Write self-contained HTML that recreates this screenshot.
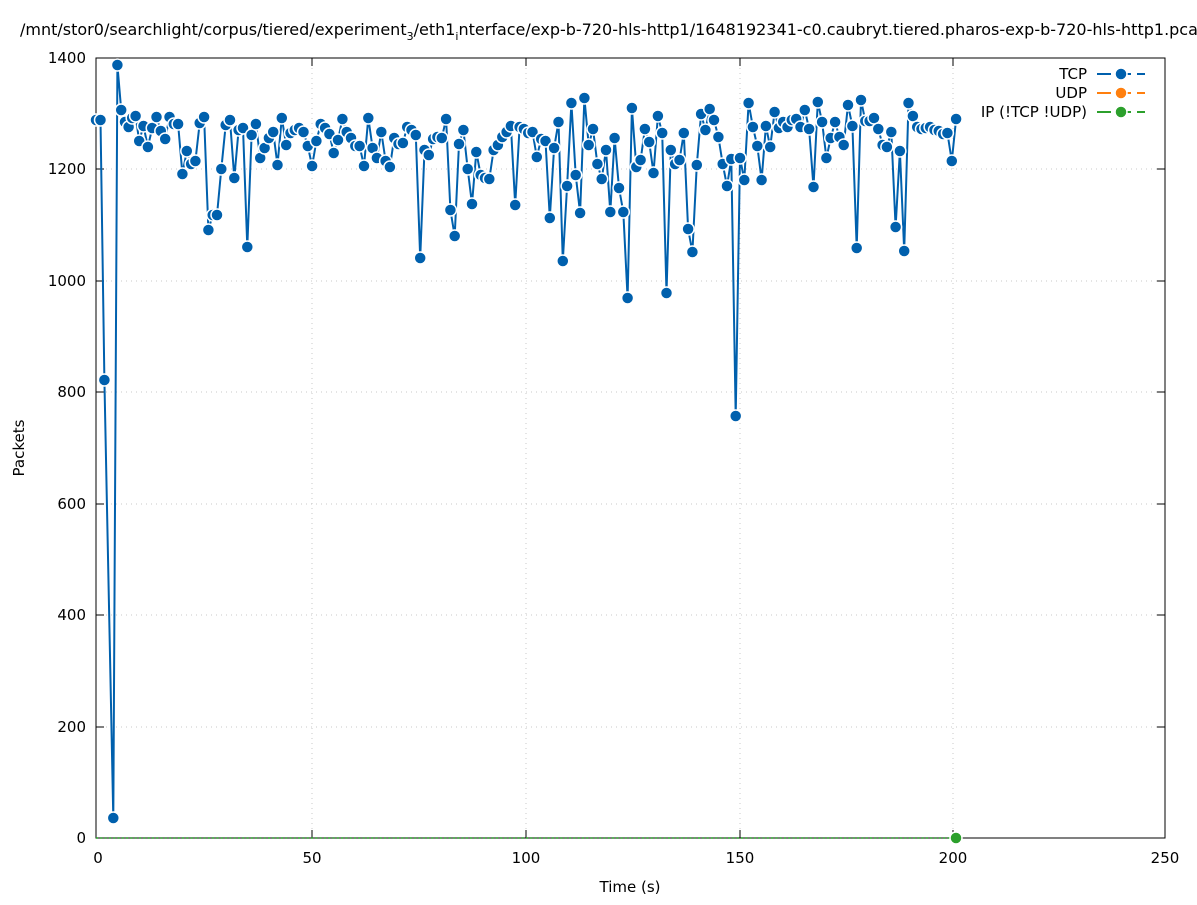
<!DOCTYPE html>
<html><head><meta charset="utf-8"><style>
body{margin:0;background:#fff;}
svg text{font-family:"DejaVu Sans","Liberation Sans",sans-serif;font-size:15px;fill:#000;}
</style></head><body>
<svg width="1197" height="900" xmlns="http://www.w3.org/2000/svg">
<defs>
<marker id="m" markerUnits="userSpaceOnUse" markerWidth="16" markerHeight="16" refX="8" refY="8" overflow="visible">
<circle cx="8" cy="8" r="6" fill="#0060ad" stroke="#fff" stroke-width="1.5"/>
</marker>
</defs>
<rect width="1197" height="900" fill="#fff"/>
<g stroke="#c8c8c8" stroke-width="1" stroke-dasharray="1,4">
<line x1="96" y1="727" x2="1165" y2="727"/><line x1="96" y1="615" x2="1165" y2="615"/>
<line x1="96" y1="504" x2="1165" y2="504"/><line x1="96" y1="392" x2="1165" y2="392"/>
<line x1="96" y1="281" x2="1165" y2="281"/><line x1="96" y1="169" x2="1165" y2="169"/>
<line x1="312" y1="58" x2="312" y2="838"/><line x1="526" y1="58" x2="526" y2="838"/>
<line x1="740" y1="58" x2="740" y2="838"/><line x1="953" y1="58" x2="953" y2="838"/>
</g>
<g stroke="#000" stroke-width="1">
<rect x="96" y="58" width="1069" height="780" fill="none"/>
<path d="M96 838h8M96 727h8M96 615h8M96 504h8M96 392h8M96 281h8M96 169h8M96 58h8M1165 838h-8M1165 727h-8M1165 615h-8M1165 504h-8M1165 392h-8M1165 281h-8M1165 169h-8M1165 58h-8M96 838v-8M312 838v-8M526 838v-8M740 838v-8M953 838v-8M1165 838v-8M96 58v8M312 58v8M526 58v8M740 58v8M953 58v8M1165 58v8"/>
</g>
<g text-anchor="end">
<text x="86" y="843">0</text><text x="86" y="732">200</text><text x="86" y="620">400</text>
<text x="86" y="509">600</text><text x="86" y="397">800</text><text x="86" y="286">1000</text>
<text x="86" y="174">1200</text><text x="86" y="63">1400</text>
</g>
<g text-anchor="middle">
<text x="98" y="863">0</text><text x="312" y="863">50</text><text x="526" y="863">100</text>
<text x="740" y="863">150</text><text x="953" y="863">200</text><text x="1165" y="863">250</text>
<text x="630" y="892">Time (s)</text>
</g>
<text x="24" y="448" transform="rotate(-90 24 448)" text-anchor="middle">Packets</text>
<text x="20" y="35" style="font-size:16px">/mnt/stor0/searchlight/corpus/tiered/experiment<tspan font-size="11" dy="5">3</tspan><tspan dy="-5">/eth1</tspan><tspan font-size="11" dy="5">i</tspan><tspan dy="-5">nterface/exp-b-720-hls-http1/1648192341-c0.caubryt.tiered.pharos-exp-b-720-hls-http1.pcap</tspan></text>
<line x1="96" y1="838" x2="956" y2="838" stroke="#20a020" stroke-width="1.5" stroke-dasharray="2,2.3"/>
<polyline fill="none" stroke="#0060ad" stroke-width="2" marker-start="url(#m)" marker-mid="url(#m)" marker-end="url(#m)" points="96,120 100.5,120 104.4,380 113.3,818 117.4,65 121.2,110 125,122 128.6,127 132.2,118 135.6,116 139.2,141 143.5,126 147.9,147 152.2,128 156.5,117 160.8,131 165.2,139 169.5,117 173.8,124 178.1,124 182.4,174 186.8,151 191.1,164 195.4,161 199.7,123 204.1,117 208.4,230 212.7,215 217,215 221.3,169 225.7,125 230,120 234.3,178 238.6,130 243,128 247.3,247 251.6,135 255.9,124 260.2,158 264.6,148 268.9,138 273.2,132 277.5,165 281.8,118 286.2,145 290.5,133 294.8,130 299.1,128 303.5,132 307.8,146 312.1,166 316.4,141 320.7,124 325.1,128 329.4,134 333.7,153 338,140 342.4,119 346.7,132 351,138 355.3,146 359.6,146 364,166 368.3,118 372.6,148 376.9,158 381.3,132 385.6,161 389.9,167 394.2,138 398.5,144 402.9,143 407.2,127 411.5,130 415.8,135 420.2,258 424.5,150 428.8,155 433.1,139 437.4,137 441.8,138 446.1,119 450.4,210 454.7,236 459,144 463.4,130 467.7,169 472,204 476.3,152 480.7,175 485,178 489.3,179 493.6,150 497.9,145 502.3,137 506.6,132 510.9,126 515.2,205 519.6,127 523.9,129 528.2,133 532.5,132 536.8,157 541.2,139 545.5,141 549.8,218 554.1,148 558.5,122 562.8,261 567.1,186 571.4,103 575.7,175 580.1,213 584.4,98 588.7,145 593,129 597.4,164 601.7,179 606,150 610.3,212 614.6,138 619,188 623.3,212 627.6,298 631.9,108 636.3,167 640.6,160 644.9,129 649.2,142 653.5,173 657.9,116 662.2,133 666.5,293 670.8,150 675.1,164 679.5,160 683.8,133 688.1,229 692.4,252 696.8,165 701.1,114 705.4,130 709.7,109 714,120 718.4,137 722.7,164 727,186 731.3,159 735.7,416 740,158 744.3,180 748.6,103 752.9,127 757.3,146 761.6,180 765.9,126 770.2,147 774.6,112 778.9,128 783.2,122 787.5,127 791.8,120 796.2,119 800.5,127 804.8,110 809.1,129 813.5,187 817.8,102 822.1,122 826.4,158 830.7,138 835.1,122 839.4,137 843.7,145 848,105 852.4,126 856.7,248 861,100 865.3,121 869.6,121 874,118 878.3,129 882.6,145 886.9,147 891.3,132 895.6,227 899.9,151 904.2,251 908.5,103 912.9,116 917.2,127 921.5,129 925.8,128 930.1,127 934.5,130 938.8,131 943.1,134 947.4,133 951.8,161 956.1,119"/>
<circle cx="956" cy="838" r="6" fill="#2ca02c" stroke="#fff" stroke-width="1.5"/>
<g text-anchor="end">
<text x="1087" y="79">TCP</text><text x="1087" y="98">UDP</text><text x="1087" y="117">IP (!TCP  !UDP)</text>
</g>
<line x1="1097" y1="74" x2="1145" y2="74" stroke="#0060ad" stroke-width="2" stroke-dasharray="14,6"/>
<circle cx="1121" cy="74" r="6" fill="#0060ad" stroke="#fff" stroke-width="1.5"/>
<line x1="1097" y1="93" x2="1145" y2="93" stroke="#ff7f0e" stroke-width="2" stroke-dasharray="14,6"/>
<circle cx="1121" cy="93" r="6" fill="#ff7f0e" stroke="#fff" stroke-width="1.5"/>
<line x1="1097" y1="112" x2="1145" y2="112" stroke="#2ca02c" stroke-width="2" stroke-dasharray="14,6"/>
<circle cx="1121" cy="112" r="6" fill="#2ca02c" stroke="#fff" stroke-width="1.5"/>
</svg>
</body></html>
